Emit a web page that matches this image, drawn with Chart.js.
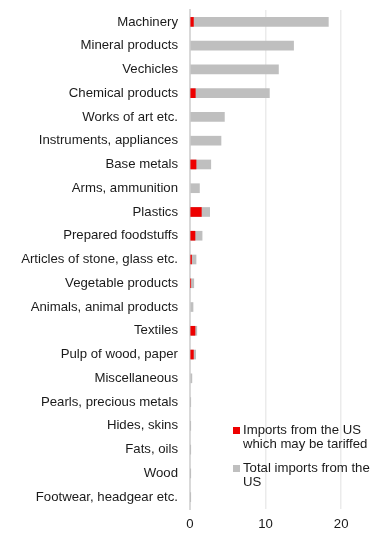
<!DOCTYPE html>
<html>
<head>
<meta charset="utf-8">
<script src="https://cdn.jsdelivr.net/npm/chart.js@4/dist/chart.umd.min.js"></script>
<style>
  html, body { margin: 0; padding: 0; background: #fff; }
  #wrap { position: relative; width: 385px; height: 534px; }
  #legend { position: absolute; left: 233px; top: 423px; width: 152px;
    font-family: "Liberation Sans", Arial, sans-serif; font-size: 13.2px; line-height: 14px; color: #1a1a1a; }
  .item { display: flex; align-items: flex-start; margin-bottom: 10px; }
  .sw { width: 7px; height: 7px; margin-top: 4px; margin-right: 3px; flex: none; }
  .txt { width: 140px; }
</style>
</head>
<body>
<div id="wrap">
  <canvas id="c" width="385" height="534"></canvas>
  <div id="legend"></div>
</div>
<script>
const categories = [
  "Machinery", "Mineral products", "Vechicles", "Chemical products", "Works of art etc.",
  "Instruments, appliances", "Base metals", "Arms, ammunition", "Plastics", "Prepared foodstuffs",
  "Articles of stone, glass etc.", "Vegetable products", "Animals, animal products", "Textiles",
  "Pulp of wood, paper", "Miscellaneous", "Pearls, precious metals", "Hides, skins", "Fats, oils",
  "Wood", "Footwear, headgear etc."
];
const tariffed = [0.45, null, null, 0.7, null, null, 0.8, null, 1.5, 0.66, 0.2, 0.08, null, 0.66, 0.45, null, null, null, null, null, null];
const totalImports = [18.3, 13.7, 11.7, 10.5, 4.55, 4.1, 2.75, 1.25, 2.6, 1.6, 0.8, 0.5, 0.4, 0.9, 0.75, 0.25, 0.05, 0.02, 0.02, 0.02, 0.02];
const xTicks = [0, 10, 20];
const seriesLabels = ["Imports from the US which may be tariffed", "Total imports from the US"];
const seriesColors = ["#ee0000", "#bfbfbf"];

const FONT = "'Liberation Sans', Arial, sans-serif";

new Chart(document.getElementById("c"), {
  type: "bar",
  data: {
    labels: categories,
    datasets: [
      { label: seriesLabels[0], data: tariffed, backgroundColor: seriesColors[0], barThickness: 9, grouped: false },
      { label: seriesLabels[1], data: totalImports, backgroundColor: seriesColors[1], barThickness: 9, grouped: false }
    ]
  },
  options: {
    indexAxis: "y",
    responsive: false,
    animation: false,
    layout: { padding: { top: 10, right: 6, bottom: 1, left: 0 } },
    plugins: { legend: { display: false }, tooltip: { enabled: false } },
    scales: {
      x: {
        min: 0, max: 25,
        afterBuildTicks: (s) => { s.ticks = xTicks.map(v => ({ value: v })); },
        afterFit: (s) => { s.height = 24; s.paddingLeft = 0; s.paddingRight = 0; },
        grid: { color: "#ebebeb", lineWidth: 1.5, drawTicks: false },
        border: { display: false },
        ticks: { padding: 7, color: "#1a1a1a", font: { family: FONT, size: 13.2 } }
      },
      y: {
        afterFit: (s) => { s.width = 190; s.paddingTop = 0; s.paddingBottom = 0; },
        grid: { display: false, drawTicks: false },
        border: { display: true, color: "#d9d9d9", width: 2 },
        ticks: { padding: 12, color: "#1a1a1a", font: { family: FONT, size: 13.2 }, autoSkip: false }
      }
    }
  }
});

const lg = document.getElementById("legend");
seriesLabels.forEach((l, i) => {
  const d = document.createElement("div");
  d.className = "item";
  d.innerHTML = '<span class="sw" style="background:' + seriesColors[i] + '"></span><span class="txt"></span>';
  d.querySelector(".txt").textContent = l;
  lg.appendChild(d);
});
</script>
</body>
</html>
